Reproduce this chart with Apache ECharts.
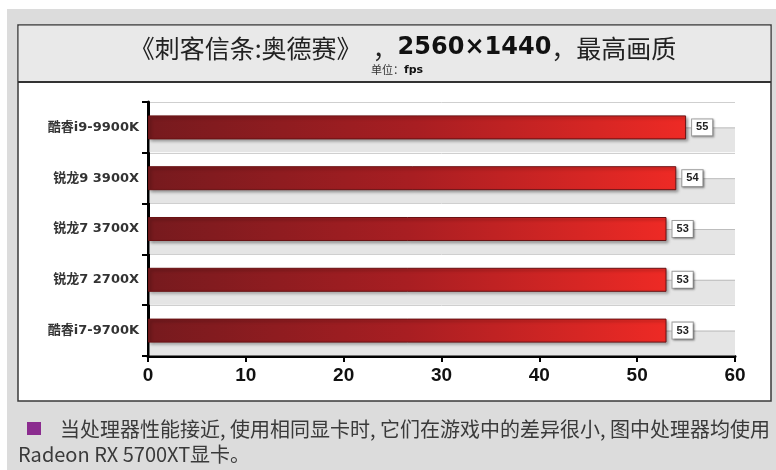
<!DOCTYPE html>
<html>
<head>
<meta charset="utf-8">
<script src="https://cdn.jsdelivr.net/npm/echarts@6/dist/echarts.min.js"></script>
<style>
html,body{margin:0;padding:0;background:#fff;}
#chart{width:776px;height:470px;}
</style>
</head>
<body>
<div id="chart"></div>
<script>
// ---- data ----
var categories = ['酷睿i9-9900K', '锐龙9 3900X', '锐龙7 3700X', '锐龙7 2700X', '酷睿i7-9700K'];
var fpsValues = [55, 54, 53, 53, 53];
var xTicks = [0, 10, 20, 30, 40, 50, 60];
var titleMain = '《刺客信条:奥德赛》';
var titleRes = '2560×1440';
var titleTail = '，最高画质';
var unitLabel = '单位：';
var unitValue = 'fps';
var captionLine1 = '当处理器性能接近, 使用相同显卡时, 它们在游戏中的差异很小, 图中处理器均使用';
var captionLine2 = 'Radeon RX 5700XT显卡。';

var xMin = xTicks[0], xMax = xTicks[xTicks.length - 1];
var chart = echarts.init(document.getElementById('chart'), null, {renderer: 'canvas'});

var bgData = categories.map(function (c, i) { return [xMax, i]; });

var option = {
  animation: false,
  backgroundColor: '#ffffff',
  graphic: [
    {type: 'rect', z: -10, shape: {x: 7, y: 9, width: 769, height: 461}, style: {fill: '#dcdcdc'}},
    {type: 'rect', z: -9, shape: {x: 18, y: 25, width: 753, height: 376}, style: {fill: '#ffffff', stroke: '#3a3a3a', lineWidth: 1.5}},
    {type: 'rect', z: -8, shape: {x: 18.75, y: 25.75, width: 751.5, height: 56}, style: {fill: '#e9e9e9'}},
    {type: 'line', z: -7, shape: {x1: 18, y1: 82, x2: 771, y2: 82}, style: {stroke: '#333', lineWidth: 2}},
    {type: 'text', z: 10, style: {
      x: 403, y: 48, align: 'center', verticalAlign: 'middle',
      text: '{a|' + titleMain + '}{p|，}{b|' + titleRes + '}{a|' + titleTail + '}',
      rich: {
        a: {fontFamily: 'Noto Sans CJK SC', fontSize: 25, fill: '#222', color: '#222'},
        p: {fontFamily: 'Noto Sans CJK SC', fontSize: 25, fill: '#222', color: '#222', padding: [0, 0, 0, 11]},
        b: {fontFamily: 'DejaVu Sans', fontWeight: 'bold', fontSize: 24, fill: '#111', color: '#111'}
      }
    }},
    {type: 'text', z: 10, style: {
      x: 397, y: 70, align: 'center', verticalAlign: 'middle',
      text: '{c|' + unitLabel + '}{d|' + unitValue + '}',
      rich: {
        c: {fontFamily: 'Noto Sans CJK SC', fontSize: 11, fill: '#333', color: '#333'},
        d: {fontFamily: 'DejaVu Sans', fontWeight: 'bold', fontSize: 11, fill: '#111', color: '#111'}
      }
    }},
    {type: 'rect', z: 10, shape: {x: 27, y: 422, width: 14, height: 13}, style: {fill: '#8b2c8f'}},
    {type: 'text', z: 10, style: {x: 60, y: 429, verticalAlign: 'middle', text: captionLine1,
      fontFamily: 'Noto Sans CJK SC', fontSize: 20, fill: '#3a3a3a'}},
    {type: 'text', z: 10, style: {x: 18, y: 454, verticalAlign: 'middle', text: captionLine2,
      fontFamily: 'Noto Sans CJK SC', fontSize: 20, fill: '#3a3a3a'}}
  ],
  grid: {left: 148, right: 41, top: 102, bottom: 114, containLabel: false},
  xAxis: {
    type: 'value', min: xMin, max: xMax, interval: 10,
    axisLine: {show: true, lineStyle: {color: '#000', width: 3}},
    axisTick: {show: true, inside: false, length: 6, lineStyle: {color: '#000', width: 2}},
    splitLine: {show: false},
    axisLabel: {margin: 10, color: '#111', fontSize: 19, fontWeight: 'bold',
      fontFamily: "'Liberation Sans', Arial, sans-serif"}
  },
  yAxis: {
    type: 'category', data: categories, inverse: true,
    axisLine: {show: true, lineStyle: {color: '#000', width: 3}},
    axisTick: {show: true, length: 6, lineStyle: {color: '#000', width: 2}},
    splitLine: {show: true, lineStyle: {color: '#cfcfcf', width: 1}},
    axisLabel: {margin: 9, color: '#333', fontSize: 13, fontWeight: 'bold',
      fontFamily: "'DejaVu Sans', 'Noto Sans CJK SC', sans-serif"}
  },
  series: [
    {
      type: 'custom', z: 1, silent: true,
      encode: {x: 0, y: 1},
      data: bgData,
      renderItem: function (params, api) {
        var idx = api.value(1);
        var p0 = api.coord([xMin, idx]);
        var p1 = api.coord([api.value(0), idx]);
        var h = api.size([0, 1])[1];
        return {
          type: 'group',
          children: [
            {type: 'rect', shape: {x: p0[0] + 1.5, y: p0[1], width: p1[0] - p0[0] - 1.5, height: h / 2 - 0.5},
              style: {fill: '#e5e5e5'}},
            {type: 'line', shape: {x1: p0[0] + 1.5, y1: p0[1] + 0.5, x2: p1[0], y2: p0[1] + 0.5},
              style: {stroke: '#bdbdbd', lineWidth: 1}}
          ]
        };
      }
    },
    {
      type: 'bar', z: 3,
      data: fpsValues,
      barWidth: 24,
      itemStyle: {
        color: new echarts.graphic.LinearGradient(0, 0, 1, 0, [
          {offset: 0, color: '#761a1e'},
          {offset: 0.5, color: '#a81e22'},
          {offset: 1, color: '#ee2a25'}
        ]),
        borderColor: '#6a1214', borderWidth: 1,
        shadowColor: 'rgba(0,0,0,0.35)', shadowBlur: 3, shadowOffsetX: 2, shadowOffsetY: 2
      },
      label: {
        show: true, position: 'right', distance: 6,
        color: '#222', fontSize: 11, fontWeight: 'bold', fontFamily: "'Liberation Sans', Arial, sans-serif",
        backgroundColor: '#ffffff', borderColor: '#a0a0a0', borderWidth: 1,
        padding: [3, 4, 2, 4],
        shadowColor: 'rgba(0,0,0,0.3)', shadowBlur: 2, shadowOffsetX: 1, shadowOffsetY: 1
      }
    }
  ]
};
chart.setOption(option);
</script>
</body>
</html>
